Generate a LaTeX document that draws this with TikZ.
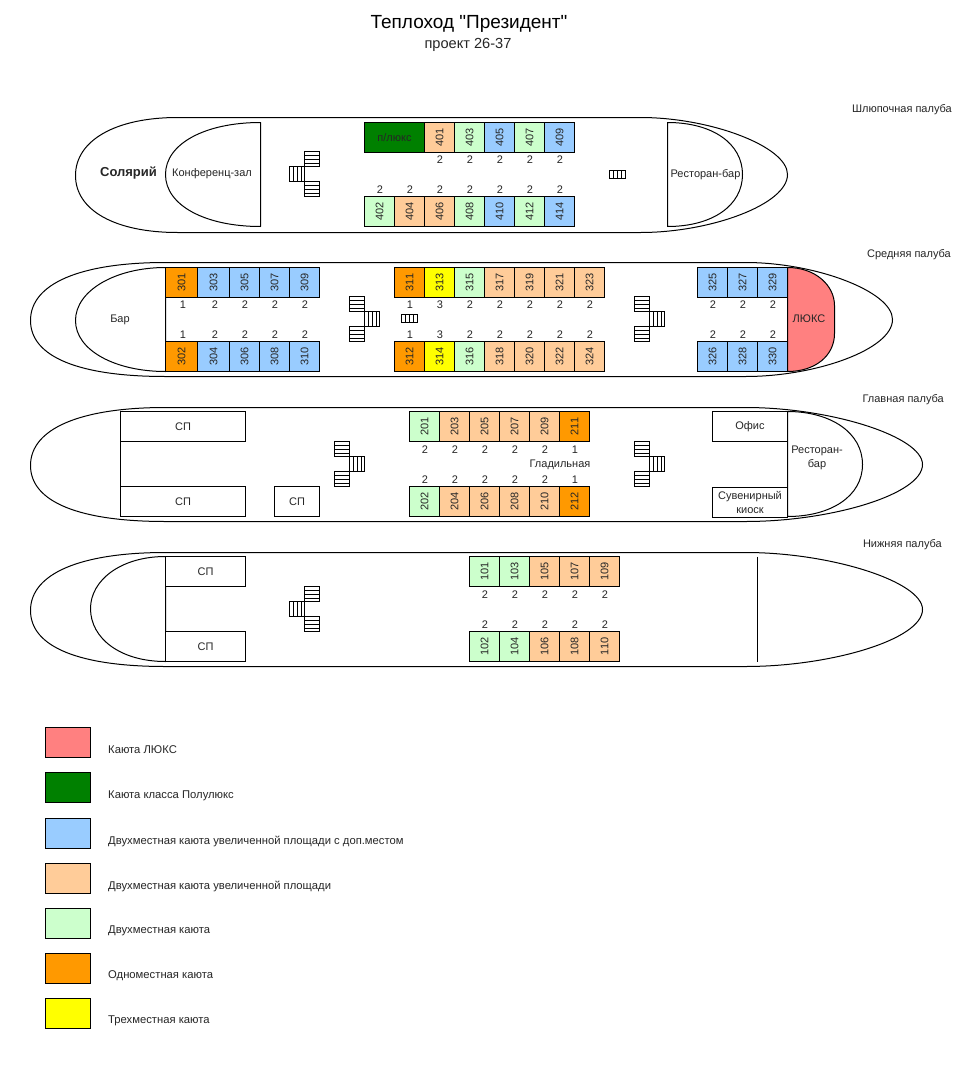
\documentclass[tikz,border=0pt]{standalone}
\usepackage{fontspec}
\setmainfont{Liberation Sans}[Ligatures=TeXOff]
\definecolor{cBlue}{HTML}{99CCFF}
\definecolor{cPeach}{HTML}{FFCC99}
\definecolor{cGreen}{HTML}{CCFFCC}
\definecolor{cOrange}{HTML}{FF9900}
\definecolor{cYellow}{HTML}{FFFF00}
\definecolor{cDark}{HTML}{008000}
\definecolor{cLux}{HTML}{FF8080}
\newcommand{\room}[5]{\node[roombox,fill=#5,minimum width=#4 pt] (c#1) at ({#2+#4/2},{#3+15}) {\rotatebox{90}{#1}};}
\newcommand{\rowrooms}[2]{\foreach \n/\x/\w/\c in {#2} {\room{\n}{\x}{#1}{\w}{\c}}}
\newcommand{\nums}[2]{\foreach \x/\v in {#2} {\node[txt] (n\x-#1) at ({\x+0.5},{#1+0.5}) {\v};}}
\newcommand{\vstair}[2]{\draw[stairline] (#1,#2) rectangle ++(15,15);
  \foreach \k in {4,8,12} {\draw[stairline] ({#1+\k},#2) -- ++(0,15);}}
\newcommand{\hstair}[2]{\draw[stairline] (#1,#2) rectangle ++(15,15);
  \foreach \k in {4,8,12} {\draw[stairline] (#1,{#2+\k}) -- ++(15,0);}}
\newcommand{\stairR}[2]{\hstair{#1}{#2}\vstair{\the\numexpr#1+15\relax}{\the\numexpr#2+15\relax}\hstair{#1}{\the\numexpr#2+30\relax}}
\newcommand{\stairL}[2]{\hstair{#1}{#2}\vstair{\the\numexpr#1-15\relax}{\the\numexpr#2+15\relax}\hstair{#1}{\the\numexpr#2+30\relax}}
\newcommand{\smallstair}[2]{\draw[stairline] (#1,#2) rectangle ++(16,8);
  \foreach \k in {4,8,12} {\draw[stairline] ({#1+\k},#2) -- ++(0,8);}}
\tikzset{
  wall/.style={draw=black,line width=1pt,line join=round},
  stairline/.style={draw=black,line width=1pt},
  roombox/.style={draw=black,line width=1pt,minimum height=30pt,inner sep=0pt,outer sep=0pt,font=\fontsize{11}{14}\selectfont,text=black!85},
  plain/.style={roombox,fill=white,minimum height=30pt},
  txt/.style={font=\fontsize{11}{14}\selectfont,inner sep=0pt,text=black!85},
  deckname/.style={txt,anchor=east},
  legendbox/.style={draw=black,line width=1pt,minimum width=45pt,minimum height=30pt,inner sep=0pt},
  legendtext/.style={font=\fontsize{11.25}{14}\selectfont,inner sep=0pt,text=black!85,anchor=west}
}
\begin{document}
\begin{tikzpicture}[x=1pt,y=-1pt]
\useasboundingbox (0,0) rectangle (958,1073);
\fill[white] (0,0) rectangle (958,1073);
\begin{scope}[shift={(0.5,0.5)}]

\node[font=\fontsize{19}{22}\selectfont,text=black,inner sep=0pt] (title) at (468.5,23.5) {Теплоход "Президент"};
\node[font=\fontsize{14.6}{16}\selectfont,text=black!85,inner sep=0pt] (subtitle) at (467.5,44.5) {проект 26-37};

% ---------- Boat deck
\node[deckname] (d4) at (951.5,109.5) {Шлюпочная палуба};
\draw[wall] (177,117) -- (640,117) .. controls (710,117) and (787,146) .. (787,174)
  .. controls (787,204) and (710,232) .. (640,232) -- (177,232)
  .. controls (115,232) and (75,210) .. (75,175) .. controls (75,140) and (115,117) .. (177,117) -- cycle;
\draw[wall] (260,122) -- (260,226) .. controls (205,226) and (165,205) .. (165,174)
  .. controls (165,143) and (205,122) .. (260,122) -- cycle;
\draw[wall] (667,122) -- (667,226) .. controls (712,226) and (742,205) .. (742,174)
  .. controls (742,143) and (712,122) .. (667,122) -- cycle;
\node[txt,font=\fontsize{13}{14}\selectfont\bfseries] (sol) at (128,173) {Солярий};
\node[txt] (conf) at (211.5,173.5) {Конференц-зал};
\node[txt] (restA) at (705,174) {Ресторан-бар};
\stairL{304}{151}
\smallstair{609}{170}
\node[roombox,fill=cDark,minimum width=60pt] (plux) at (394,137) {п/люкс};
\rowrooms{122}{401/424/30/cPeach,403/454/30/cGreen,405/484/30/cBlue,407/514/30/cGreen,409/544/30/cBlue}
\rowrooms{196}{402/364/30/cGreen,404/394/30/cPeach,406/424/30/cPeach,408/454/30/cGreen,410/484/30/cBlue,412/514/30/cGreen,414/544/30/cBlue}
\nums{159}{439/2,469/2,499/2,529/2,559/2}
\nums{189}{379/2,409/2,439/2,469/2,499/2,529/2,559/2}

% ---------- Middle deck
\node[deckname] (d3) at (950.5,254.5) {Средняя палуба};
\draw[wall] (165,262) -- (745,262) .. controls (815,262) and (892,291) .. (892,319)
  .. controls (892,349) and (815,376) .. (745,376) -- (165,376)
  .. controls (80,376) and (30,357) .. (30,320) .. controls (30,283) and (80,262) .. (165,262) -- cycle;
\draw[wall] (165,267) .. controls (115,267) and (75,290) .. (75,320) .. controls (75,350) and (115,371) .. (165,371) -- cycle;
\draw[wall,fill=cLux] (787,267) .. controls (815,267) and (834,285) .. (834,305) -- (834,333)
  .. controls (834,355) and (815,371) .. (787,371) -- cycle;
\node[txt] (bar) at (119.5,319.5) {Бар};
\node[txt] (lux) at (808.5,318) {ЛЮКС};
\rowrooms{267}{301/165/32/cOrange,303/197/32/cBlue,305/229/30/cBlue,307/259/30/cBlue,309/289/30/cBlue,311/394/30/cOrange,313/424/30/cYellow,315/454/30/cGreen,317/484/30/cPeach,319/514/30/cPeach,321/544/30/cPeach,323/574/30/cPeach,325/697/30/cBlue,327/727/30/cBlue,329/757/30/cBlue}
\rowrooms{341}{302/165/32/cOrange,304/197/32/cBlue,306/229/30/cBlue,308/259/30/cBlue,310/289/30/cBlue,312/394/30/cOrange,314/424/30/cYellow,316/454/30/cGreen,318/484/30/cPeach,320/514/30/cPeach,322/544/30/cPeach,324/574/30/cPeach,326/697/30/cBlue,328/727/30/cBlue,330/757/30/cBlue}
\nums{304}{182/1,214/2,244/2,274/2,304/2,409/1,439/3,469/2,499/2,529/2,559/2,589/2,712/2,742/2,772/2}
\nums{334}{182/1,214/2,244/2,274/2,304/2,409/1,439/3,469/2,499/2,529/2,559/2,589/2,712/2,742/2,772/2}
\stairR{349}{296}
\stairR{634}{296}
\smallstair{401}{314}

% ---------- Main deck
\node[deckname] (d2) at (943.5,399.5) {Главная палуба};
\draw[wall] (165,407) -- (745,407) .. controls (830,407) and (922,436) .. (922,464)
  .. controls (922,494) and (830,521) .. (745,521) -- (165,521)
  .. controls (80,521) and (30,502) .. (30,465) .. controls (30,428) and (80,407) .. (165,407) -- cycle;
\draw[wall] (787,411) .. controls (830,411) and (862,432) .. (862,464)
  .. controls (862,496) and (830,516) .. (787,516) -- cycle;
\draw[wall] (120,411) -- (120,516);
\node[plain,minimum width=125pt] (sp1) at (182.5,426) {СП};
\node[plain,minimum width=125pt] (sp2) at (182.5,501) {СП};
\node[plain,minimum width=45pt] (sp3) at (296.5,501) {СП};
\node[plain,minimum width=75pt] (office) at (749.5,426) {Офис};
\node[plain,minimum width=75pt,align=center] (kiosk) at (749.5,501.5) {Сувенирный\\киоск};
\node[txt,align=center] (restB) at (816.5,457) {Ресторан-\\бар};
\node[txt] (iron) at (559.5,464) {Гладильная};
\stairR{334}{441}
\stairR{634}{441}
\rowrooms{411}{201/409/30/cGreen,203/439/30/cPeach,205/469/30/cPeach,207/499/30/cPeach,209/529/30/cPeach,211/559/30/cOrange}
\rowrooms{486}{202/409/30/cGreen,204/439/30/cPeach,206/469/30/cPeach,208/499/30/cPeach,210/529/30/cPeach,212/559/30/cOrange}
\nums{449}{424/2,454/2,484/2,514/2,544/2,574/1}
\nums{479}{424/2,454/2,484/2,514/2,544/2,574/1}

% ---------- Lower deck
\node[deckname] (d1) at (941.5,544.5) {Нижняя палуба};
\draw[wall] (165,552) -- (745,552) .. controls (830,552) and (922,581) .. (922,609)
  .. controls (922,639) and (830,666) .. (745,666) -- (165,666)
  .. controls (80,666) and (30,647) .. (30,610) .. controls (30,573) and (80,552) .. (165,552) -- cycle;
\draw[wall] (165,556) .. controls (120,556) and (90,580) .. (90,608) .. controls (90,638) and (120,661) .. (165,661) -- cycle;
\draw[wall] (757,556) -- (757,661);
\node[plain,minimum width=80pt] (sp4) at (205,571) {СП};
\node[plain,minimum width=80pt] (sp5) at (205,646) {СП};
\stairL{304}{586}
\rowrooms{556}{101/469/30/cGreen,103/499/30/cGreen,105/529/30/cPeach,107/559/30/cPeach,109/589/30/cPeach}
\rowrooms{631}{102/469/30/cGreen,104/499/30/cGreen,106/529/30/cPeach,108/559/30/cPeach,110/589/30/cPeach}
\nums{594}{484/2,514/2,544/2,574/2,604/2}
\nums{624}{484/2,514/2,544/2,574/2,604/2}

% ---------- Legend
\foreach \i/\y/\ty/\c/\t in {
  a/742/749.5/cLux/{Каюта ЛЮКС},
  b/787/795.5/cDark/{Каюта класса Полулюкс},
  c/833/840.5/cBlue/{Двухместная каюта увеличенной площади с доп.местом},
  d/878/885.5/cPeach/{Двухместная каюта увеличенной площади},
  e/923/930.5/cGreen/{Двухместная каюта},
  f/968/975.5/cOrange/{Одноместная каюта},
  g/1013/1020.5/cYellow/{Трехместная каюта}} {
  \node[legendbox,fill=\c] (lb\i) at (67.5,\y) {};
  \node[legendtext] (lt\i) at (107.5,\ty) {\t};
}
\end{scope}
\end{tikzpicture}
\end{document}
